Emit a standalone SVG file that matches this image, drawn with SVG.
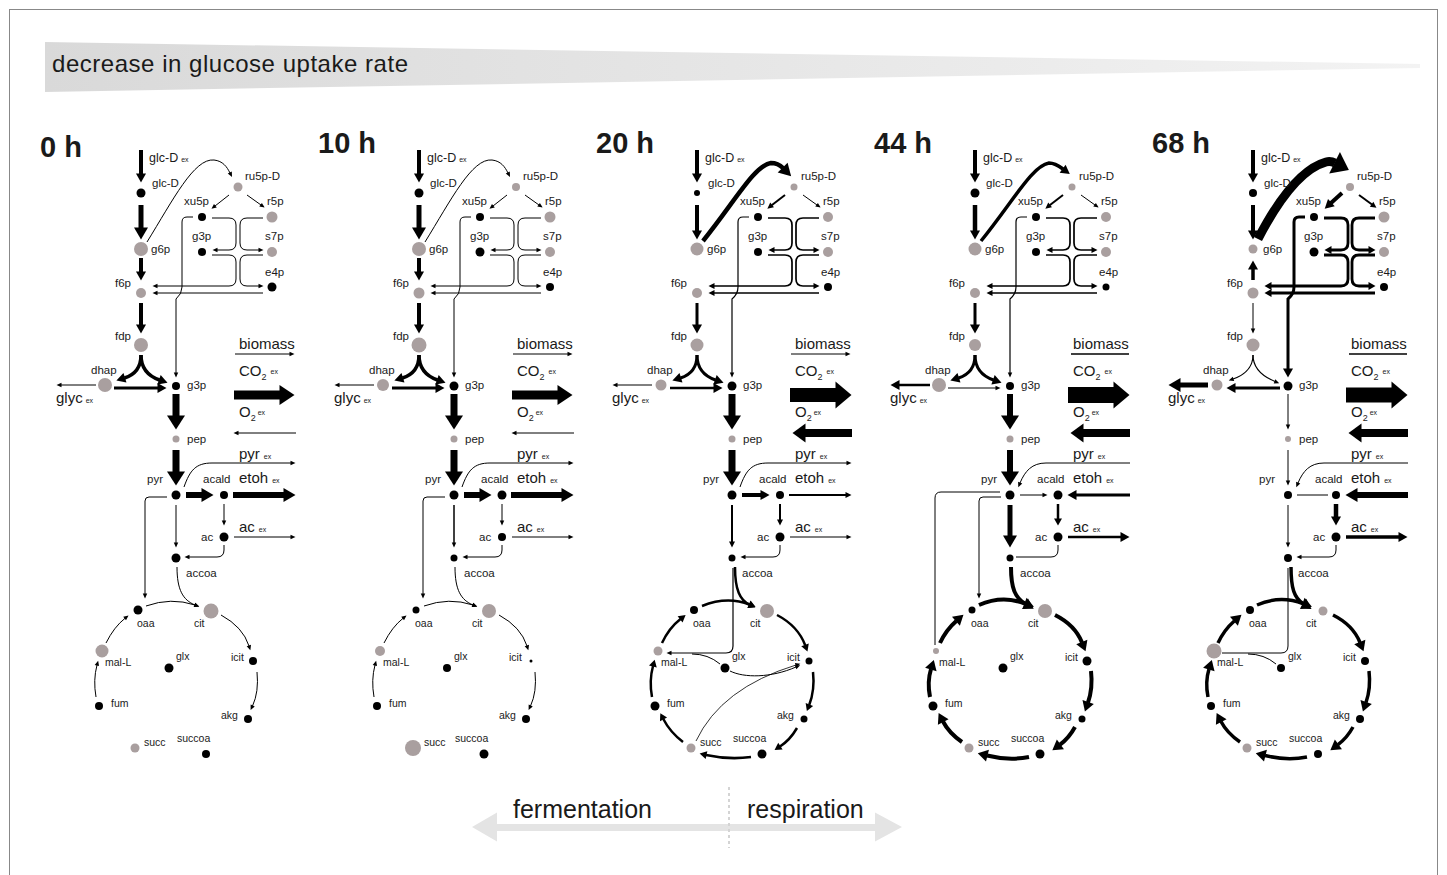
<svg xmlns="http://www.w3.org/2000/svg" width="1447" height="875" viewBox="0 0 1447 875">
<style>
text{font-family:"Liberation Sans",Arial,Helvetica,sans-serif;fill:#1a1a1a}
.l{font-size:11.5px}
.c{font-size:10.5px}
.x{font-size:15px}
.e{font-size:7px}
.s{font-size:9px}
.gl{font-size:12.5px}
.t{font-size:29px;font-weight:bold}
.k{fill:#000}
.g{fill:#a99f9f}
.cn path{fill:none;stroke:#000}
</style>
<defs>
<linearGradient id="hdr" x1="0" y1="0" x2="1" y2="0">
<stop offset="0" stop-color="#d9d9d9"/><stop offset="1" stop-color="#f3f3f3"/>
</linearGradient>
<marker id="mt" markerUnits="userSpaceOnUse" markerWidth="5" markerHeight="4.5" refX="0.5" refY="2.25" orient="auto" overflow="visible"><path d="M0,0L5,2.25L0,4.5z" fill="#000"/></marker>
<marker id="ms" markerUnits="userSpaceOnUse" markerWidth="6" markerHeight="6" refX="0.5" refY="3" orient="auto" overflow="visible"><path d="M0,0L6,3L0,6z" fill="#000"/></marker>
<marker id="mp" markerUnits="userSpaceOnUse" markerWidth="7" markerHeight="8" refX="0.5" refY="4" orient="auto" overflow="visible"><path d="M0,0L7,4L0,8z" fill="#000"/></marker>
<marker id="mm" markerUnits="userSpaceOnUse" markerWidth="9" markerHeight="10" refX="0.5" refY="5" orient="auto" overflow="visible"><path d="M0,0L9,5L0,10z" fill="#000"/></marker>
<marker id="mq" markerUnits="userSpaceOnUse" markerWidth="10" markerHeight="12" refX="0.5" refY="6" orient="auto" overflow="visible"><path d="M0,0L10,6L0,12z" fill="#000"/></marker>
<marker id="mb" markerUnits="userSpaceOnUse" markerWidth="12" markerHeight="14" refX="0.5" refY="7" orient="auto" overflow="visible"><path d="M0,0L12,7L0,14z" fill="#000"/></marker>
<marker id="mx" markerUnits="userSpaceOnUse" markerWidth="14" markerHeight="18" refX="0.5" refY="9" orient="auto" overflow="visible"><path d="M0,0L14,9L0,18z" fill="#000"/></marker>
<marker id="mh" markerUnits="userSpaceOnUse" markerWidth="16" markerHeight="24" refX="0.5" refY="12" orient="auto" overflow="visible"><path d="M0,0L16,12L0,24z" fill="#000"/></marker>
<marker id="mo" markerUnits="userSpaceOnUse" markerWidth="13" markerHeight="19" refX="0.5" refY="9.5" orient="auto" overflow="visible"><path d="M0,0L13,9.5L0,19z" fill="#000"/></marker>
<marker id="mc0" markerUnits="userSpaceOnUse" markerWidth="15" markerHeight="20" refX="0.5" refY="10" orient="auto" overflow="visible"><path d="M0,0L15,10L0,20z" fill="#000"/></marker>
<marker id="mc" markerUnits="userSpaceOnUse" markerWidth="16" markerHeight="27" refX="0.5" refY="13.5" orient="auto" overflow="visible"><path d="M0,0L16,13.5L0,27z" fill="#000"/></marker>
</defs>
<rect x="9.5" y="9.5" width="1428" height="880" fill="#fff" stroke="#888" stroke-width="1"/>
<g id="header">
<polygon points="45,42 1420,64 1420,68 45,92" fill="url(#hdr)"/>
<text x="52" y="72" font-size="24" fill="#222" textLength="356" lengthAdjust="spacing">decrease in glucose uptake rate</text>
</g>

<!-- ================= 0 h ================= -->
<g id="panel-0h">
<text class="t" x="40" y="157">0 h</text>
<g id="c0" class="cn">
<path d="M141,150V174" stroke-width="4" marker-end="url(#mm)"/>
<path d="M141,205V228" stroke-width="5" marker-end="url(#mb)"/>
<path d="M147,242C173,200 194,158 214,160C223,161 227,167 230,173" stroke-width="1" marker-end="url(#mt)"/>
<path d="M229,195L215,206" stroke-width="1" marker-end="url(#mt)"/>
<path d="M247,195L261,205" stroke-width="1" marker-end="url(#mt)"/>
<path d="M212,218H229Q236,218 236,225V243Q236,250 229,250H217" stroke-width="1" marker-end="url(#mt)"/>
<path d="M263,218H247Q240,218 240,225V243Q240,250 247,250H259" stroke-width="1" marker-end="url(#mt)"/>
<path d="M212,255H229Q236,255 236,262V279Q236,286 229,286H157" stroke-width="1" marker-end="url(#mt)"/>
<path d="M263,255H247Q240,255 240,262V279Q240,286 247,286H259" stroke-width="1" marker-end="url(#mt)"/>
<path d="M263,293H157" stroke-width="1" marker-end="url(#mt)"/>
<path d="M193,217H187Q182,217 182,222V287Q182,294 176,299V373" stroke-width="1" marker-end="url(#mt)"/>
<path d="M141,258V272" stroke-width="4" marker-end="url(#mm)"/>
<path d="M141,303V325" stroke-width="4" marker-end="url(#mm)"/>
<path d="M141,355C141,369 134,375 124.5,378" stroke-width="3.5" marker-end="url(#mm)"/>
<path d="M141,355C141,369 148,376 159.5,380" stroke-width="3.5" marker-end="url(#mm)"/>
<path d="M114,388H158" stroke-width="3" marker-end="url(#mm)"/>
<path d="M96,385H61" stroke-width="1" marker-end="url(#mt)"/>
<path d="M176,394V416" stroke-width="7" marker-end="url(#mx)"/>
<path d="M176,450V472" stroke-width="7" marker-end="url(#mx)"/>
<path d="M186,495H202" stroke-width="6" marker-end="url(#mb)"/>
<path d="M233,495H284" stroke-width="6" marker-end="url(#mb)"/>
<path d="M184,487C190,470 196,463 212,463H291" stroke-width="1" marker-end="url(#mt)"/>
<path d="M224,504V521" stroke-width="1" marker-end="url(#mt)"/>
<path d="M234,537H291" stroke-width="1" marker-end="url(#mt)"/>
<path d="M176,505V543" stroke-width="1" marker-end="url(#mt)"/>
<path d="M224,545V550Q224,557 217,557H189" stroke-width="1" marker-end="url(#mt)"/>
<path d="M177,567C177,590 183,600 195,605" stroke-width="1" marker-end="url(#mt)"/>
<path d="M167,497H149Q145,497 145,501V594" stroke-width="1" marker-end="url(#mt)"/>
<path d="M146,606Q171,597 195,605" stroke-width="1" marker-end="url(#mt)"/>
<path d="M221,615Q243,627 249,646" stroke-width="1" marker-end="url(#mt)"/>
<path d="M257,672Q259,692 252.5,706" stroke-width="1" marker-end="url(#mt)"/>
<path d="M96,697Q93,680 97,665" stroke-width="1" marker-end="url(#mt)"/>
<path d="M106,643Q114,627 125,618.3" stroke-width="1" marker-end="url(#mt)"/>
<path d="M235,354H290" stroke-width="1" marker-end="url(#mt)"/>
<path d="M234,395H280" stroke-width="9" marker-end="url(#mc0)"/>
<path d="M296,433H238" stroke-width="1" marker-end="url(#mt)"/>
</g>
<g id="n0-glcDex"><text class="gl" x="149" y="162">glc-D<tspan class="e" dx="3">ex</tspan></text></g>
<g id="n0-glcD"><circle class="k" cx="141" cy="193" r="4.5"/><text class="l" x="152" y="187">glc-D</text></g>
<g id="n0-g6p"><circle class="g" cx="141" cy="249" r="7"/><text class="l" x="151" y="253">g6p</text></g>
<g id="n0-ru5p"><circle class="g" cx="238" cy="187" r="4.5"/><text class="l" x="245" y="180">ru5p-D</text></g>
<g id="n0-xu5p"><circle class="k" cx="202" cy="217" r="4"/><text class="l" x="184" y="205">xu5p</text></g>
<g id="n0-r5p"><circle class="g" cx="272" cy="217" r="5.5"/><text class="l" x="267" y="205">r5p</text></g>
<g id="n0-g3pP"><circle class="k" cx="202" cy="252" r="4"/><text class="l" x="192" y="240">g3p</text></g>
<g id="n0-s7p"><circle class="g" cx="272" cy="252" r="5"/><text class="l" x="265" y="240">s7p</text></g>
<g id="n0-e4p"><circle class="k" cx="272" cy="287" r="4.5"/><text class="l" x="265" y="276">e4p</text></g>
<g id="n0-f6p"><circle class="g" cx="141" cy="293" r="5"/><text class="l" x="115" y="287">f6p</text></g>
<g id="n0-fdp"><circle class="g" cx="141" cy="345" r="7"/><text class="l" x="115" y="340">fdp</text></g>
<g id="n0-dhap"><circle class="g" cx="105" cy="385" r="7"/><text class="l" x="91" y="374">dhap</text></g>
<g id="n0-glyc"><text class="x" x="56" y="403">glyc<tspan class="e" dx="3">ex</tspan></text></g>
<g id="n0-g3p"><circle class="k" cx="176" cy="386" r="4"/><text class="l" x="187" y="389">g3p</text></g>
<g id="n0-pep"><circle class="g" cx="176" cy="439" r="3.5"/><text class="l" x="187" y="443">pep</text></g>
<g id="n0-pyr"><circle class="k" cx="176" cy="495" r="4.5"/><text class="l" x="147" y="483">pyr</text></g>
<g id="n0-acald"><circle class="k" cx="224" cy="495" r="4"/><text class="l" x="203" y="483">acald</text></g>
<g id="n0-ac"><circle class="k" cx="224" cy="537" r="4.5"/><text class="l" x="201" y="541">ac</text></g>
<g id="n0-accoa"><circle class="k" cx="176" cy="558" r="4.5"/><text class="l" x="186" y="577">accoa</text></g>
<g id="n0-oaa"><circle class="k" cx="138" cy="610" r="4.5"/><text class="c" x="137" y="627">oaa</text></g>
<g id="n0-cit"><circle class="g" cx="211" cy="611" r="7.5"/><text class="c" x="194" y="627">cit</text></g>
<g id="n0-icit"><circle class="k" cx="253" cy="661" r="4"/><text class="c" x="231" y="661">icit</text></g>
<g id="n0-akg"><circle class="k" cx="248" cy="719" r="4"/><text class="c" x="221" y="719">akg</text></g>
<g id="n0-succoa"><circle class="k" cx="206" cy="754" r="4"/><text class="c" x="177" y="742">succoa</text></g>
<g id="n0-succ"><circle class="g" cx="135" cy="748" r="4.5"/><text class="c" x="144" y="746">succ</text></g>
<g id="n0-fum"><circle class="k" cx="99" cy="706" r="4"/><text class="c" x="111" y="707">fum</text></g>
<g id="n0-malL"><circle class="g" cx="102" cy="651" r="6.5"/><text class="c" x="105" y="666">mal-L</text></g>
<g id="n0-glx"><circle class="k" cx="169" cy="668" r="4.5"/><text class="c" x="176" y="660">glx</text></g>
<g id="n0-biomass"><text class="x" x="239" y="349">biomass</text></g>
<g id="n0-co2"><text class="x" x="239" y="376">CO<tspan class="s" dy="4">2</tspan><tspan class="e" dx="4" dy="-6">ex</tspan></text></g>
<g id="n0-o2"><text class="x" x="239" y="417">O<tspan class="s" dy="4">2</tspan><tspan class="e" dx="2" dy="-6">ex</tspan></text></g>
<g id="n0-pyrex"><text class="x" x="239" y="459">pyr<tspan class="e" dx="4">ex</tspan></text></g>
<g id="n0-etohex"><text class="x" x="239" y="483">etoh<tspan class="e" dx="4">ex</tspan></text></g>
<g id="n0-acex"><text class="x" x="239" y="532">ac<tspan class="e" dx="4">ex</tspan></text></g>
</g>

<!-- ================= 10 h ================= -->
<g id="panel-10h" transform="translate(278,0)">
<text class="t" x="40" y="153">10 h</text>
<g id="c10" class="cn">
<path d="M141,150V174" stroke-width="4" marker-end="url(#mm)"/>
<path d="M141,205V228" stroke-width="5" marker-end="url(#mb)"/>
<path d="M147,242C173,200 194,158 214,160C223,161 227,167 230,173" stroke-width="1" marker-end="url(#mt)"/>
<path d="M229,195L215,206" stroke-width="1" marker-end="url(#mt)"/>
<path d="M247,195L261,205" stroke-width="1" marker-end="url(#mt)"/>
<path d="M212,218H229Q236,218 236,225V243Q236,250 229,250H217" stroke-width="1" marker-end="url(#mt)"/>
<path d="M263,218H247Q240,218 240,225V243Q240,250 247,250H259" stroke-width="1" marker-end="url(#mt)"/>
<path d="M212,255H229Q236,255 236,262V279Q236,286 229,286H157" stroke-width="1" marker-end="url(#mt)"/>
<path d="M263,255H247Q240,255 240,262V279Q240,286 247,286H259" stroke-width="1" marker-end="url(#mt)"/>
<path d="M263,293H157" stroke-width="1" marker-end="url(#mt)"/>
<path d="M193,217H187Q182,217 182,222V287Q182,294 176,299V373" stroke-width="1" marker-end="url(#mt)"/>
<path d="M141,258V272" stroke-width="4" marker-end="url(#mm)"/>
<path d="M141,303V325" stroke-width="4" marker-end="url(#mm)"/>
<path d="M141,355C141,369 134,375 124.5,378" stroke-width="3.5" marker-end="url(#mm)"/>
<path d="M141,355C141,369 148,376 159.5,380" stroke-width="3.5" marker-end="url(#mm)"/>
<path d="M114,388H158" stroke-width="3" marker-end="url(#mm)"/>
<path d="M96,385H61" stroke-width="1" marker-end="url(#mt)"/>
<path d="M176,394V416" stroke-width="7" marker-end="url(#mx)"/>
<path d="M176,450V472" stroke-width="7" marker-end="url(#mx)"/>
<path d="M186,495H202" stroke-width="6" marker-end="url(#mb)"/>
<path d="M233,495H284" stroke-width="6" marker-end="url(#mb)"/>
<path d="M184,487C190,470 196,463 212,463H291" stroke-width="1" marker-end="url(#mt)"/>
<path d="M224,504V521" stroke-width="1" marker-end="url(#mt)"/>
<path d="M234,537H291" stroke-width="1" marker-end="url(#mt)"/>
<path d="M176,505V543" stroke-width="1.5" marker-end="url(#mt)"/>
<path d="M224,545V550Q224,557 217,557H189" stroke-width="1" marker-end="url(#mt)"/>
<path d="M177,567C177,590 183,600 195,605" stroke-width="1" marker-end="url(#mt)"/>
<path d="M167,497H149Q145,497 145,501V594" stroke-width="1" marker-end="url(#mt)"/>
<path d="M146,606Q171,597 195,605" stroke-width="1" marker-end="url(#mt)"/>
<path d="M221,615Q243,627 249,646" stroke-width="1" marker-end="url(#mt)"/>
<path d="M257,672Q259,692 252.5,706" stroke-width="1" marker-end="url(#mt)"/>
<path d="M96,697Q93,680 97,665" stroke-width="1" marker-end="url(#mt)"/>
<path d="M106,643Q114,627 125,618.3" stroke-width="1" marker-end="url(#mt)"/>
<path d="M235,354H290" stroke-width="1" marker-end="url(#mt)"/>
<path d="M234,395H280" stroke-width="9" marker-end="url(#mc0)"/>
<path d="M296,433H238" stroke-width="1" marker-end="url(#mt)"/>
</g>
<g id="n10-glcDex"><text class="gl" x="149" y="162">glc-D<tspan class="e" dx="3">ex</tspan></text></g>
<g id="n10-glcD"><circle class="k" cx="141" cy="193" r="4.5"/><text class="l" x="152" y="187">glc-D</text></g>
<g id="n10-g6p"><circle class="g" cx="141" cy="249" r="7"/><text class="l" x="151" y="253">g6p</text></g>
<g id="n10-ru5p"><circle class="g" cx="238" cy="187" r="4"/><text class="l" x="245" y="180">ru5p-D</text></g>
<g id="n10-xu5p"><circle class="k" cx="202" cy="217" r="4"/><text class="l" x="184" y="205">xu5p</text></g>
<g id="n10-r5p"><circle class="g" cx="272" cy="217" r="5.5"/><text class="l" x="267" y="205">r5p</text></g>
<g id="n10-g3pP"><circle class="k" cx="202" cy="252" r="4.5"/><text class="l" x="192" y="240">g3p</text></g>
<g id="n10-s7p"><circle class="g" cx="272" cy="252" r="5"/><text class="l" x="265" y="240">s7p</text></g>
<g id="n10-e4p"><circle class="k" cx="272" cy="287" r="4"/><text class="l" x="265" y="276">e4p</text></g>
<g id="n10-f6p"><circle class="g" cx="141" cy="293" r="5.5"/><text class="l" x="115" y="287">f6p</text></g>
<g id="n10-fdp"><circle class="g" cx="141" cy="345" r="7.5"/><text class="l" x="115" y="340">fdp</text></g>
<g id="n10-dhap"><circle class="g" cx="105" cy="385" r="6"/><text class="l" x="91" y="374">dhap</text></g>
<g id="n10-glyc"><text class="x" x="56" y="403">glyc<tspan class="e" dx="3">ex</tspan></text></g>
<g id="n10-g3p"><circle class="k" cx="176" cy="386" r="4.5"/><text class="l" x="187" y="389">g3p</text></g>
<g id="n10-pep"><circle class="g" cx="176" cy="439" r="3.5"/><text class="l" x="187" y="443">pep</text></g>
<g id="n10-pyr"><circle class="k" cx="176" cy="495" r="4.5"/><text class="l" x="147" y="483">pyr</text></g>
<g id="n10-acald"><circle class="k" cx="224" cy="495" r="4.5"/><text class="l" x="203" y="483">acald</text></g>
<g id="n10-ac"><circle class="k" cx="224" cy="537" r="4"/><text class="l" x="201" y="541">ac</text></g>
<g id="n10-accoa"><circle class="k" cx="176" cy="558" r="3.5"/><text class="l" x="186" y="577">accoa</text></g>
<g id="n10-oaa"><circle class="k" cx="138" cy="610" r="3.5"/><text class="c" x="137" y="627">oaa</text></g>
<g id="n10-cit"><circle class="g" cx="211" cy="611" r="7"/><text class="c" x="194" y="627">cit</text></g>
<g id="n10-icit"><circle class="k" cx="253" cy="661" r="1.5"/><text class="c" x="231" y="661">icit</text></g>
<g id="n10-akg"><circle class="k" cx="248" cy="719" r="4"/><text class="c" x="221" y="719">akg</text></g>
<g id="n10-succoa"><circle class="k" cx="206" cy="754" r="4.5"/><text class="c" x="177" y="742">succoa</text></g>
<g id="n10-succ"><circle class="g" cx="135" cy="748" r="8"/><text class="c" x="146" y="746">succ</text></g>
<g id="n10-fum"><circle class="k" cx="99" cy="706" r="4"/><text class="c" x="111" y="707">fum</text></g>
<g id="n10-malL"><circle class="g" cx="102" cy="651" r="5"/><text class="c" x="105" y="666">mal-L</text></g>
<g id="n10-glx"><circle class="k" cx="169" cy="668" r="4"/><text class="c" x="176" y="660">glx</text></g>
<g id="n10-biomass"><text class="x" x="239" y="349">biomass</text></g>
<g id="n10-co2"><text class="x" x="239" y="376">CO<tspan class="s" dy="4">2</tspan><tspan class="e" dx="4" dy="-6">ex</tspan></text></g>
<g id="n10-o2"><text class="x" x="239" y="417">O<tspan class="s" dy="4">2</tspan><tspan class="e" dx="2" dy="-6">ex</tspan></text></g>
<g id="n10-pyrex"><text class="x" x="239" y="459">pyr<tspan class="e" dx="4">ex</tspan></text></g>
<g id="n10-etohex"><text class="x" x="239" y="483">etoh<tspan class="e" dx="4">ex</tspan></text></g>
<g id="n10-acex"><text class="x" x="239" y="532">ac<tspan class="e" dx="4">ex</tspan></text></g>
</g>

<!-- ================= 20 h ================= -->
<g id="panel-20h" transform="translate(556,0)">
<text class="t" x="40" y="153">20 h</text>
<g id="c20" class="cn">
<path d="M141,150V174" stroke-width="4" marker-end="url(#mm)"/>
<path d="M141,205V231" stroke-width="4" marker-end="url(#mm)"/>
<path d="M147,241C180,200 198,166 215,163C220,163 224,165 227,168" stroke-width="4.5" marker-end="url(#mb)"/>
<path d="M229,195L215.7,205.3" stroke-width="2" marker-end="url(#ms)"/>
<path d="M247,195L261,205" stroke-width="1" marker-end="url(#mt)"/>
<path d="M212,218H229Q236,218 236,225V243Q236,250 229,250H218" stroke-width="1.7" marker-end="url(#ms)"/>
<path d="M263,218H247Q240,218 240,225V243Q240,250 247,250H258" stroke-width="1.7" marker-end="url(#ms)"/>
<path d="M212,255H229Q236,255 236,262V279Q236,286 229,286H158" stroke-width="1.7" marker-end="url(#ms)"/>
<path d="M263,255H247Q240,255 240,262V279Q240,286 247,286H258" stroke-width="1.7" marker-end="url(#ms)"/>
<path d="M263,293H158" stroke-width="1.7" marker-end="url(#ms)"/>
<path d="M193,217H187Q182,217 182,222V287Q182,294 176,299V373" stroke-width="1.2" marker-end="url(#mt)"/>
<path d="M141,303V325" stroke-width="3" marker-end="url(#mm)"/>
<path d="M141,355C141,369 134,375 124.5,378" stroke-width="3" marker-end="url(#mm)"/>
<path d="M141,355C141,369 148,376 159.5,380" stroke-width="3" marker-end="url(#mm)"/>
<path d="M114,388H158" stroke-width="2.5" marker-end="url(#mm)"/>
<path d="M96,385H61" stroke-width="1" marker-end="url(#mt)"/>
<path d="M176,394V416" stroke-width="7" marker-end="url(#mx)"/>
<path d="M176,450V472" stroke-width="7" marker-end="url(#mx)"/>
<path d="M186,495H205" stroke-width="4" marker-end="url(#mm)"/>
<path d="M233,495H290" stroke-width="2" marker-end="url(#ms)"/>
<path d="M184,487C190,470 196,463 212,463H291" stroke-width="1" marker-end="url(#mt)"/>
<path d="M224,504V520" stroke-width="2" marker-end="url(#ms)"/>
<path d="M234,537H291" stroke-width="1.2" marker-end="url(#mt)"/>
<path d="M176,505V542" stroke-width="2" marker-end="url(#ms)"/>
<path d="M224,545V550Q224,557 217,557H189" stroke-width="1" marker-end="url(#mt)"/>
<path d="M179,567C179,590 184,600 193.5,604.7" stroke-width="2.5" marker-end="url(#mp)"/>
<path d="M177,568V646Q177,653 170,653H115" stroke-width="1.2" marker-end="url(#mt)"/>
<path d="M164,664Q152,654 136,654" stroke-width="1"/>
<path d="M174,671C188,678 215,678 240,667" stroke-width="1" marker-end="url(#mt)"/>
<path d="M140,741Q165,688 240,665" stroke-width="0.8" marker-end="url(#mt)"/>
<path d="M146,606Q171,596 193.5,604.5" stroke-width="2.5" marker-end="url(#mp)"/>
<path d="M221,615Q242,626 249.2,645.3" stroke-width="2.5" marker-end="url(#mp)"/>
<path d="M257,672Q259,690 253.2,705" stroke-width="2.5" marker-end="url(#mp)"/>
<path d="M241,728Q234,740 224,746.5" stroke-width="2.5" marker-end="url(#mp)"/>
<path d="M195,757Q173,760 150,755" stroke-width="2.5" marker-end="url(#mp)"/>
<path d="M127,742Q114,732 107.3,719" stroke-width="2.5" marker-end="url(#mp)"/>
<path d="M96,697Q93,681 97,666" stroke-width="2.5" marker-end="url(#mp)"/>
<path d="M106,643Q113,628 124.5,619" stroke-width="2.5" marker-end="url(#mp)"/>
<path d="M235,354H290" stroke-width="1" marker-end="url(#mt)"/>
<path d="M234,395H280" stroke-width="14" marker-end="url(#mc)"/>
<path d="M296,433H249" stroke-width="8" marker-end="url(#mo)"/>
</g>
<g id="n20-glcDex"><text class="gl" x="149" y="162">glc-D<tspan class="e" dx="3">ex</tspan></text></g>
<g id="n20-glcD"><circle class="k" cx="141" cy="193" r="3"/><text class="l" x="152" y="187">glc-D</text></g>
<g id="n20-g6p"><circle class="g" cx="141" cy="249" r="6.5"/><text class="l" x="151" y="253">g6p</text></g>
<g id="n20-ru5p"><circle class="g" cx="238" cy="187" r="3.5"/><text class="l" x="245" y="180">ru5p-D</text></g>
<g id="n20-xu5p"><circle class="k" cx="202" cy="217" r="4"/><text class="l" x="184" y="205">xu5p</text></g>
<g id="n20-r5p"><circle class="g" cx="272" cy="217" r="5"/><text class="l" x="267" y="205">r5p</text></g>
<g id="n20-g3pP"><circle class="k" cx="202" cy="252" r="4"/><text class="l" x="192" y="240">g3p</text></g>
<g id="n20-s7p"><circle class="g" cx="272" cy="252" r="5"/><text class="l" x="265" y="240">s7p</text></g>
<g id="n20-e4p"><circle class="k" cx="272" cy="287" r="4"/><text class="l" x="265" y="276">e4p</text></g>
<g id="n20-f6p"><circle class="g" cx="141" cy="293" r="5"/><text class="l" x="115" y="287">f6p</text></g>
<g id="n20-fdp"><circle class="g" cx="141" cy="345" r="6.5"/><text class="l" x="115" y="340">fdp</text></g>
<g id="n20-dhap"><circle class="g" cx="105" cy="385" r="5.5"/><text class="l" x="91" y="374">dhap</text></g>
<g id="n20-glyc"><text class="x" x="56" y="403">glyc<tspan class="e" dx="3">ex</tspan></text></g>
<g id="n20-g3p"><circle class="k" cx="176" cy="386" r="4.5"/><text class="l" x="187" y="389">g3p</text></g>
<g id="n20-pep"><circle class="g" cx="176" cy="439" r="3.5"/><text class="l" x="187" y="443">pep</text></g>
<g id="n20-pyr"><circle class="k" cx="176" cy="495" r="4.5"/><text class="l" x="147" y="483">pyr</text></g>
<g id="n20-acald"><circle class="k" cx="224" cy="495" r="4"/><text class="l" x="203" y="483">acald</text></g>
<g id="n20-ac"><circle class="k" cx="224" cy="537" r="4.5"/><text class="l" x="201" y="541">ac</text></g>
<g id="n20-accoa"><circle class="k" cx="176" cy="558" r="3.5"/><text class="l" x="186" y="577">accoa</text></g>
<g id="n20-oaa"><circle class="k" cx="138" cy="610" r="4"/><text class="c" x="137" y="627">oaa</text></g>
<g id="n20-cit"><circle class="g" cx="211" cy="611" r="7"/><text class="c" x="194" y="627">cit</text></g>
<g id="n20-icit"><circle class="k" cx="253" cy="661" r="3.5"/><text class="c" x="231" y="661">icit</text></g>
<g id="n20-akg"><circle class="k" cx="248" cy="719" r="3.5"/><text class="c" x="221" y="719">akg</text></g>
<g id="n20-succoa"><circle class="k" cx="206" cy="754" r="4.5"/><text class="c" x="177" y="742">succoa</text></g>
<g id="n20-succ"><circle class="g" cx="135" cy="748" r="4.5"/><text class="c" x="144" y="746">succ</text></g>
<g id="n20-fum"><circle class="k" cx="99" cy="706" r="4.5"/><text class="c" x="111" y="707">fum</text></g>
<g id="n20-malL"><circle class="g" cx="102" cy="651" r="4.5"/><text class="c" x="105" y="666">mal-L</text></g>
<g id="n20-glx"><circle class="k" cx="169" cy="668" r="4.5"/><text class="c" x="176" y="660">glx</text></g>
<g id="n20-biomass"><text class="x" x="239" y="349">biomass</text></g>
<g id="n20-co2"><text class="x" x="239" y="376">CO<tspan class="s" dy="4">2</tspan><tspan class="e" dx="4" dy="-6">ex</tspan></text></g>
<g id="n20-o2"><text class="x" x="239" y="417">O<tspan class="s" dy="4">2</tspan><tspan class="e" dx="2" dy="-6">ex</tspan></text></g>
<g id="n20-pyrex"><text class="x" x="239" y="459">pyr<tspan class="e" dx="4">ex</tspan></text></g>
<g id="n20-etohex"><text class="x" x="239" y="483">etoh<tspan class="e" dx="4">ex</tspan></text></g>
<g id="n20-acex"><text class="x" x="239" y="532">ac<tspan class="e" dx="4">ex</tspan></text></g>
</g>

<!-- ================= 44 h ================= -->
<g id="panel-44h" transform="translate(834,0)">
<text class="t" x="40" y="153">44 h</text>
<g id="c44" class="cn">
<path d="M141,150V174" stroke-width="4" marker-end="url(#mm)"/>
<path d="M141,205V231" stroke-width="4.5" marker-end="url(#mm)"/>
<path d="M147,241C180,200 198,166 215,163C221,163 225,166 229,169" stroke-width="3.5" marker-end="url(#mm)"/>
<path d="M229,195L215.7,205.3" stroke-width="2" marker-end="url(#ms)"/>
<path d="M247,195L261,205" stroke-width="1" marker-end="url(#mt)"/>
<path d="M212,218H229Q236,218 236,225V243Q236,250 229,250H218" stroke-width="1.7" marker-end="url(#ms)"/>
<path d="M263,218H247Q240,218 240,225V243Q240,250 247,250H258" stroke-width="1.7" marker-end="url(#ms)"/>
<path d="M212,255H229Q236,255 236,262V279Q236,286 229,286H158" stroke-width="1.7" marker-end="url(#ms)"/>
<path d="M263,255H247Q240,255 240,262V279Q240,286 247,286H258" stroke-width="1.7" marker-end="url(#ms)"/>
<path d="M263,293H158" stroke-width="1.7" marker-end="url(#ms)"/>
<path d="M193,217H187Q182,217 182,222V287Q182,294 176,299V373" stroke-width="1.2" marker-end="url(#mt)"/>
<path d="M141,303V325" stroke-width="3" marker-end="url(#mm)"/>
<path d="M141,355C141,369 134,375 124.5,378" stroke-width="3" marker-end="url(#mm)"/>
<path d="M141,355C141,369 148,376 159.5,380" stroke-width="3" marker-end="url(#mm)"/>
<path d="M114,388H162" stroke-width="1" marker-end="url(#mt)"/>
<path d="M96,385H65" stroke-width="2.5" marker-end="url(#mm)"/>
<path d="M176,394V416" stroke-width="6" marker-end="url(#mx)"/>
<path d="M176,450V472" stroke-width="6" marker-end="url(#mx)"/>
<path d="M186,495H209" stroke-width="1" marker-end="url(#mt)"/>
<path d="M296,495H242" stroke-width="3" marker-end="url(#mm)"/>
<path d="M296,463H212C198,463 191,471 186,483" stroke-width="1" marker-end="url(#mt)"/>
<path d="M224,504V519" stroke-width="2.5" marker-end="url(#mp)"/>
<path d="M234,537H287" stroke-width="2.5" marker-end="url(#mm)"/>
<path d="M176,505V536" stroke-width="5" marker-end="url(#mb)"/>
<path d="M224,545V550Q224,557 217,557H182" stroke-width="1"/>
<path d="M177,567C177,588 181,598 191.5,604" stroke-width="4" marker-end="url(#mq)"/>
<path d="M167,497H149Q145,497 145,501V594" stroke-width="1" marker-end="url(#mt)"/>
<path d="M101,645V498Q101,492 107,492H166" stroke-width="1"/>
<path d="M145,605Q168,595 191,603.5" stroke-width="4" marker-end="url(#mq)"/>
<path d="M221,615Q241,625 248,642.5" stroke-width="4" marker-end="url(#mq)"/>
<path d="M257,671Q259,688 254,702.5" stroke-width="4" marker-end="url(#mq)"/>
<path d="M241,727Q235,738 226,744.6" stroke-width="4" marker-end="url(#mq)"/>
<path d="M195,757Q175,761 153,755.5" stroke-width="4" marker-end="url(#mq)"/>
<path d="M128,742Q115,733 109,721.5" stroke-width="4" marker-end="url(#mq)"/>
<path d="M96,697Q93,682 97,669" stroke-width="4" marker-end="url(#mq)"/>
<path d="M106,643Q112,630 122.3,621" stroke-width="4" marker-end="url(#mq)"/>
<path d="M237,354H295" stroke-width="1.5"/>
<path d="M234,395H280" stroke-width="16" marker-end="url(#mc)"/>
<path d="M296,433H249" stroke-width="8" marker-end="url(#mo)"/>
</g>
<g id="n44-glcDex"><text class="gl" x="149" y="162">glc-D<tspan class="e" dx="3">ex</tspan></text></g>
<g id="n44-glcD"><circle class="k" cx="141" cy="193" r="4.5"/><text class="l" x="152" y="187">glc-D</text></g>
<g id="n44-g6p"><circle class="g" cx="141" cy="249" r="6.5"/><text class="l" x="151" y="253">g6p</text></g>
<g id="n44-ru5p"><circle class="g" cx="238" cy="187" r="3.5"/><text class="l" x="245" y="180">ru5p-D</text></g>
<g id="n44-xu5p"><circle class="k" cx="202" cy="217" r="4"/><text class="l" x="184" y="205">xu5p</text></g>
<g id="n44-r5p"><circle class="g" cx="272" cy="217" r="5"/><text class="l" x="267" y="205">r5p</text></g>
<g id="n44-g3pP"><circle class="k" cx="202" cy="252" r="4"/><text class="l" x="192" y="240">g3p</text></g>
<g id="n44-s7p"><circle class="g" cx="272" cy="252" r="5"/><text class="l" x="265" y="240">s7p</text></g>
<g id="n44-e4p"><circle class="k" cx="272" cy="287" r="3.5"/><text class="l" x="265" y="276">e4p</text></g>
<g id="n44-f6p"><circle class="g" cx="141" cy="293" r="5"/><text class="l" x="115" y="287">f6p</text></g>
<g id="n44-fdp"><circle class="g" cx="141" cy="345" r="6"/><text class="l" x="115" y="340">fdp</text></g>
<g id="n44-dhap"><circle class="g" cx="105" cy="385" r="7"/><text class="l" x="91" y="374">dhap</text></g>
<g id="n44-glyc"><text class="x" x="56" y="403">glyc<tspan class="e" dx="3">ex</tspan></text></g>
<g id="n44-g3p"><circle class="k" cx="176" cy="386" r="4"/><text class="l" x="187" y="389">g3p</text></g>
<g id="n44-pep"><circle class="g" cx="176" cy="439" r="3.5"/><text class="l" x="187" y="443">pep</text></g>
<g id="n44-pyr"><circle class="k" cx="176" cy="495" r="4.5"/><text class="l" x="147" y="483">pyr</text></g>
<g id="n44-acald"><circle class="k" cx="224" cy="495" r="4.5"/><text class="l" x="203" y="483">acald</text></g>
<g id="n44-ac"><circle class="k" cx="224" cy="537" r="4.5"/><text class="l" x="201" y="541">ac</text></g>
<g id="n44-accoa"><circle class="k" cx="176" cy="558" r="3.5"/><text class="l" x="186" y="577">accoa</text></g>
<g id="n44-oaa"><circle class="k" cx="138" cy="610" r="3.5"/><text class="c" x="137" y="627">oaa</text></g>
<g id="n44-cit"><circle class="g" cx="211" cy="611" r="7"/><text class="c" x="194" y="627">cit</text></g>
<g id="n44-icit"><circle class="k" cx="253" cy="661" r="4.5"/><text class="c" x="231" y="661">icit</text></g>
<g id="n44-akg"><circle class="k" cx="248" cy="719" r="3.5"/><text class="c" x="221" y="719">akg</text></g>
<g id="n44-succoa"><circle class="k" cx="206" cy="754" r="4.5"/><text class="c" x="177" y="742">succoa</text></g>
<g id="n44-succ"><circle class="g" cx="135" cy="748" r="4.5"/><text class="c" x="144" y="746">succ</text></g>
<g id="n44-fum"><circle class="k" cx="99" cy="706" r="4.5"/><text class="c" x="111" y="707">fum</text></g>
<g id="n44-malL"><circle class="g" cx="102" cy="651" r="3"/><text class="c" x="105" y="666">mal-L</text></g>
<g id="n44-glx"><circle class="k" cx="169" cy="668" r="4.5"/><text class="c" x="176" y="660">glx</text></g>
<g id="n44-biomass"><text class="x" x="239" y="349">biomass</text></g>
<g id="n44-co2"><text class="x" x="239" y="376">CO<tspan class="s" dy="4">2</tspan><tspan class="e" dx="4" dy="-6">ex</tspan></text></g>
<g id="n44-o2"><text class="x" x="239" y="417">O<tspan class="s" dy="4">2</tspan><tspan class="e" dx="2" dy="-6">ex</tspan></text></g>
<g id="n44-pyrex"><text class="x" x="239" y="459">pyr<tspan class="e" dx="4">ex</tspan></text></g>
<g id="n44-etohex"><text class="x" x="239" y="483">etoh<tspan class="e" dx="4">ex</tspan></text></g>
<g id="n44-acex"><text class="x" x="239" y="532">ac<tspan class="e" dx="4">ex</tspan></text></g>
</g>

<!-- ================= 68 h ================= -->
<g id="panel-68h" transform="translate(1112,0)">
<text class="t" x="40" y="153">68 h</text>
<g id="c68" class="cn">
<path d="M141,150V174" stroke-width="4" marker-end="url(#mm)"/>
<path d="M141,205V231" stroke-width="4" marker-end="url(#mm)"/>
<path d="M146,239C160,212 185,170 214,162C218,161 221,162 223,163" stroke-width="9" marker-end="url(#mh)"/>
<path d="M230,193L219,203" stroke-width="4" marker-end="url(#mm)"/>
<path d="M247,195L260,204.5" stroke-width="2" marker-end="url(#ms)"/>
<path d="M212,218H229Q236,218 236,225V243Q236,250 229,250H219" stroke-width="2.8" marker-end="url(#mp)"/>
<path d="M263,218H247Q240,218 240,225V243Q240,250 247,250H257" stroke-width="2.8" marker-end="url(#mp)"/>
<path d="M212,255H229Q236,255 236,262V279Q236,286 229,286H159" stroke-width="2.8" marker-end="url(#mp)"/>
<path d="M263,255H247Q240,255 240,262V279Q240,286 247,286H257" stroke-width="2.8" marker-end="url(#mp)"/>
<path d="M263,293H159" stroke-width="2.8" marker-end="url(#mp)"/>
<path d="M193,217H187Q182,217 182,222V287Q182,294 176,299V369" stroke-width="3" marker-end="url(#mm)"/>
<path d="M141,280V269" stroke-width="3.5" marker-end="url(#mm)"/>
<path d="M141,303V329" stroke-width="1" marker-end="url(#mt)"/>
<path d="M141,355C141,369 130,376 121,379" stroke-width="1.2" marker-end="url(#mt)"/>
<path d="M141,355C141,369 152,377 163,381.5" stroke-width="1.2" marker-end="url(#mt)"/>
<path d="M168,388H123" stroke-width="3" marker-end="url(#mm)"/>
<path d="M96,385H68" stroke-width="5" marker-end="url(#mb)"/>
<path d="M176,394V425" stroke-width="1" marker-end="url(#mt)"/>
<path d="M176,450V481" stroke-width="1" marker-end="url(#mt)"/>
<path d="M185,495H216" stroke-width="1"/>
<path d="M296,495H245" stroke-width="6" marker-end="url(#mb)"/>
<path d="M296,463H212C198,463 191,471 186,483" stroke-width="1" marker-end="url(#mt)"/>
<path d="M224,504V517" stroke-width="4.5" marker-end="url(#mm)"/>
<path d="M234,537H287" stroke-width="3.5" marker-end="url(#mm)"/>
<path d="M176,505V543" stroke-width="1" marker-end="url(#mt)"/>
<path d="M224,545V550Q224,557 217,557H189" stroke-width="1" marker-end="url(#mt)"/>
<path d="M179,567C179,588 182,598 191.5,604" stroke-width="3.5" marker-end="url(#mq)"/>
<path d="M176,568V646Q176,653 169,653H110" stroke-width="1"/>
<path d="M164,664Q152,654 136,654" stroke-width="1"/>
<path d="M145,605Q168,595 191,603.5" stroke-width="3.5" marker-end="url(#mq)"/>
<path d="M221,615Q241,625 248,642.5" stroke-width="3.5" marker-end="url(#mq)"/>
<path d="M257,671Q259,688 254,702.5" stroke-width="3.5" marker-end="url(#mq)"/>
<path d="M241,727Q235,738 226,744.6" stroke-width="3.5" marker-end="url(#mq)"/>
<path d="M195,757Q175,761 153,755.5" stroke-width="3.5" marker-end="url(#mq)"/>
<path d="M128,742Q115,733 109,721.5" stroke-width="3.5" marker-end="url(#mq)"/>
<path d="M96,697Q93,682 97,669" stroke-width="3.5" marker-end="url(#mq)"/>
<path d="M106,643Q112,630 122.3,621" stroke-width="3.5" marker-end="url(#mq)"/>
<path d="M237,354H295" stroke-width="1.5"/>
<path d="M234,395H280" stroke-width="15" marker-end="url(#mc)"/>
<path d="M296,433H249" stroke-width="8" marker-end="url(#mo)"/>
</g>
<g id="n68-glcDex"><text class="gl" x="149" y="162">glc-D<tspan class="e" dx="3">ex</tspan></text></g>
<g id="n68-glcD"><circle class="k" cx="141" cy="193" r="4"/><text class="l" x="152" y="187">glc-D</text></g>
<g id="n68-g6p"><circle class="g" cx="141" cy="249" r="4.5"/><text class="l" x="151" y="253">g6p</text></g>
<g id="n68-ru5p"><circle class="g" cx="238" cy="187" r="4"/><text class="l" x="245" y="180">ru5p-D</text></g>
<g id="n68-xu5p"><circle class="k" cx="202" cy="217" r="4"/><text class="l" x="184" y="205">xu5p</text></g>
<g id="n68-r5p"><circle class="g" cx="272" cy="217" r="5.5"/><text class="l" x="267" y="205">r5p</text></g>
<g id="n68-g3pP"><circle class="k" cx="202" cy="252" r="4.5"/><text class="l" x="192" y="240">g3p</text></g>
<g id="n68-s7p"><circle class="g" cx="272" cy="252" r="5"/><text class="l" x="265" y="240">s7p</text></g>
<g id="n68-e4p"><circle class="k" cx="272" cy="287" r="4"/><text class="l" x="265" y="276">e4p</text></g>
<g id="n68-f6p"><circle class="g" cx="141" cy="293" r="5.5"/><text class="l" x="115" y="287">f6p</text></g>
<g id="n68-fdp"><circle class="g" cx="141" cy="345" r="6.5"/><text class="l" x="115" y="340">fdp</text></g>
<g id="n68-dhap"><circle class="g" cx="105" cy="385" r="5.5"/><text class="l" x="91" y="374">dhap</text></g>
<g id="n68-glyc"><text class="x" x="56" y="403">glyc<tspan class="e" dx="3">ex</tspan></text></g>
<g id="n68-g3p"><circle class="k" cx="176" cy="386" r="4.5"/><text class="l" x="187" y="389">g3p</text></g>
<g id="n68-pep"><circle class="g" cx="176" cy="439" r="3"/><text class="l" x="187" y="443">pep</text></g>
<g id="n68-pyr"><circle class="k" cx="176" cy="495" r="4"/><text class="l" x="147" y="483">pyr</text></g>
<g id="n68-acald"><circle class="k" cx="224" cy="495" r="4"/><text class="l" x="203" y="483">acald</text></g>
<g id="n68-ac"><circle class="k" cx="224" cy="537" r="4.5"/><text class="l" x="201" y="541">ac</text></g>
<g id="n68-accoa"><circle class="k" cx="176" cy="558" r="4"/><text class="l" x="186" y="577">accoa</text></g>
<g id="n68-oaa"><circle class="k" cx="138" cy="610" r="4"/><text class="c" x="137" y="627">oaa</text></g>
<g id="n68-cit"><circle class="g" cx="211" cy="611" r="4.5"/><text class="c" x="194" y="627">cit</text></g>
<g id="n68-icit"><circle class="k" cx="253" cy="661" r="4"/><text class="c" x="231" y="661">icit</text></g>
<g id="n68-akg"><circle class="k" cx="248" cy="719" r="4"/><text class="c" x="221" y="719">akg</text></g>
<g id="n68-succoa"><circle class="k" cx="206" cy="754" r="4"/><text class="c" x="177" y="742">succoa</text></g>
<g id="n68-succ"><circle class="g" cx="135" cy="748" r="4.5"/><text class="c" x="144" y="746">succ</text></g>
<g id="n68-fum"><circle class="k" cx="99" cy="706" r="4"/><text class="c" x="111" y="707">fum</text></g>
<g id="n68-malL"><circle class="g" cx="102" cy="651" r="7.5"/><text class="c" x="105" y="666">mal-L</text></g>
<g id="n68-glx"><circle class="k" cx="169" cy="668" r="4"/><text class="c" x="176" y="660">glx</text></g>
<g id="n68-biomass"><text class="x" x="239" y="349">biomass</text></g>
<g id="n68-co2"><text class="x" x="239" y="376">CO<tspan class="s" dy="4">2</tspan><tspan class="e" dx="4" dy="-6">ex</tspan></text></g>
<g id="n68-o2"><text class="x" x="239" y="417">O<tspan class="s" dy="4">2</tspan><tspan class="e" dx="2" dy="-6">ex</tspan></text></g>
<g id="n68-pyrex"><text class="x" x="239" y="459">pyr<tspan class="e" dx="4">ex</tspan></text></g>
<g id="n68-etohex"><text class="x" x="239" y="483">etoh<tspan class="e" dx="4">ex</tspan></text></g>
<g id="n68-acex"><text class="x" x="239" y="532">ac<tspan class="e" dx="4">ex</tspan></text></g>
</g>

<g id="mode-axis">
<polygon points="472,827 497,812.5 497,824 875,824 875,812.5 902,827 875,841.5 875,831 497,831 497,841.5" fill="#e4e4e4"/>
<line x1="729" y1="787" x2="729" y2="848" stroke="#d4d4d4" stroke-width="2" stroke-dasharray="3,3"/>
<text x="513" y="818" font-size="25">fermentation</text>
<text x="747" y="818" font-size="25">respiration</text>
</g>
</svg>
